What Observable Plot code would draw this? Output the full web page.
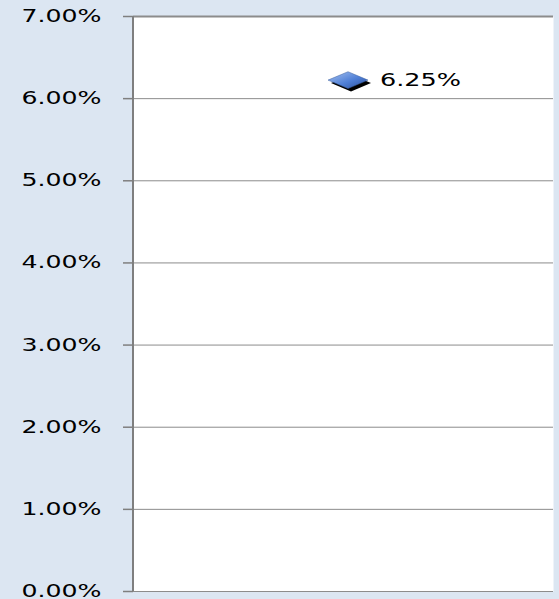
<!DOCTYPE html>
<html>
<head>
<meta charset="utf-8">
<script src="https://cdn.jsdelivr.net/npm/d3@7"></script>
<script src="https://cdn.jsdelivr.net/npm/@observablehq/plot@0.6"></script>
<style>
  html, body { margin: 0; padding: 0; background: #dce6f2; }
  #chart svg { display: block; }
</style>
</head>
<body>
<div id="chart"></div>
<script>
const categories = ["Series 1"];
const values = [0.0625];
const valueLabels = ["6.25%"];
const yTicks = [0, 0.01, 0.02, 0.03, 0.04, 0.05, 0.06, 0.07];
const yTickLabels = ["0.00%", "1.00%", "2.00%", "3.00%", "4.00%", "5.00%", "6.00%", "7.00%"];

const data = categories.map((c, i) => ({cat: c, v: values[i], label: valueLabels[i]}));

const flatDiamond = {
  draw(context, size) {
    const r = Math.sqrt(size / Math.PI);
    const h = r * 0.42;
    context.moveTo(-r, 0);
    context.lineTo(0, -h);
    context.lineTo(r, 0);
    context.lineTo(0, h);
    context.closePath();
  }
};

const defs = () => {
  const d = d3.create("svg:defs");
  const g = d.append("linearGradient").attr("id", "dgrad")
    .attr("x1", "0").attr("y1", "0").attr("x2", "1").attr("y2", "1");
  g.append("stop").attr("offset", "0%").attr("stop-color", "#a9c4f0");
  g.append("stop").attr("offset", "55%").attr("stop-color", "#4f7fd6");
  g.append("stop").attr("offset", "100%").attr("stop-color", "#2a4f9a");
  return d.node();
};

const fontFamily = "'DejaVu Sans', Verdana, sans-serif";

const chart = Plot.plot({
  width: 559,
  height: 599,
  marginLeft: 133,
  marginRight: 6,
  marginTop: 16,
  marginBottom: 8,
  style: {background: "#dce6f2", fontFamily, fontSize: "17px", color: "#000"},
  x: {type: "band", domain: categories, axis: null},
  y: {domain: [0, 0.07], axis: null},
  marks: [
    defs,
    Plot.frame({fill: "white", stroke: "none"}),
    Plot.ruleY(yTicks, {stroke: "#8c8c8c", strokeWidth: 1}),
    Plot.ruleY([0.07], {stroke: "#8c8c8c", strokeWidth: 2}),
    Plot.axisY({
      ticks: yTicks,
      tickFormat: (d) => yTickLabels[yTicks.indexOf(d)],
      tickSize: 10,
      tickPadding: 102,
      textAnchor: "start",
      stroke: "#7f7f7f",
      strokeWidth: 1.5,
      fontSize: 17,
      fill: "#000",
      label: null,
      className: "yax"
    }),
    Plot.dot(data, {x: "cat", y: "v", symbol: flatDiamond, r: 20, fill: "#000", stroke: "none", dx: 7, dy: 5}),
    Plot.dot(data, {x: "cat", y: "v", symbol: flatDiamond, r: 20, fill: "url(#dgrad)", stroke: "#3a5f9f", strokeWidth: 0.5, dx: 4, dy: 2}),
    Plot.text(data, {x: "cat", y: "v", text: "label", dx: 36, dy: 2, textAnchor: "start", fontSize: 17, fill: "#000", className: "vlab"})
  ]
});

// stretch glyphs horizontally like the reference
d3.select(chart).selectAll(".yax text").attr("textLength", 80).attr("lengthAdjust", "spacingAndGlyphs");
d3.select(chart).selectAll(".vlab text").attr("textLength", 81).attr("lengthAdjust", "spacingAndGlyphs");

// left axis line
const ys = chart.scale("y");
d3.select(chart).append("line")
  .attr("x1", 133).attr("x2", 133)
  .attr("y1", ys.apply(0.07)).attr("y2", ys.apply(0))
  .attr("stroke", "#7f7f7f").attr("stroke-width", 2);

document.getElementById("chart").appendChild(chart);
</script>
</body>
</html>
